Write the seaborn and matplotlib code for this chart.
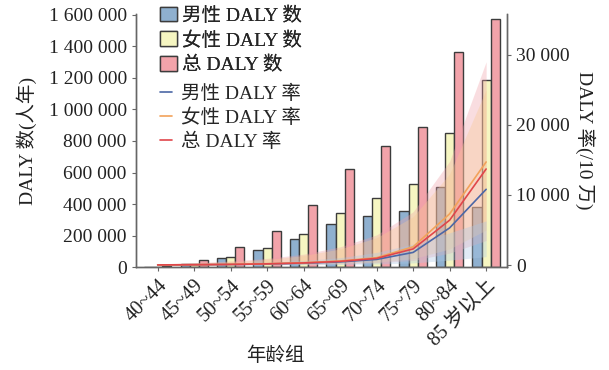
import numpy as np
import pandas as pd
import matplotlib
matplotlib.use('Agg')
import matplotlib.pyplot as plt
import seaborn as sns
from matplotlib.patches import Patch
from matplotlib.lines import Line2D
from matplotlib.ticker import FuncFormatter

# age groups
age_groups = ['40~44', '45~49', '50~54', '55~59', '60~64', '65~69',
              '70~74', '75~79', '80~84', '85 岁以上']

# DALY counts (person-years), left axis
male_daly = [4000, 20000, 59000, 106000, 180000, 272000, 326000, 357000, 506000, 380000]
female_daly = [3000, 22000, 63000, 119000, 210000, 345000, 436000, 525000, 853000, 1187000]
total_daly = [7000, 44000, 125000, 229000, 394000, 620000, 768000, 887000, 1363000, 1572000]

# DALY rates (/100k), right axis
male_rate = [15, 40, 80, 150, 260, 450, 800, 1800, 5300, 10800]
female_rate = [20, 50, 100, 190, 330, 580, 1050, 2600, 7300, 14700]
total_rate = [18, 45, 90, 170, 300, 520, 950, 2300, 6400, 13700]

# uncertainty bands around the rates
male_lo = [0, 0, 10, 20, 40, 80, 150, 300, 700, 1200]
male_hi = [60, 120, 220, 380, 650, 1050, 1800, 3000, 4600, 6300]
female_lo = [0, 10, 30, 70, 130, 230, 400, 900, 2300, 5000]
female_hi = [120, 260, 470, 800, 1350, 2300, 3900, 6900, 13000, 25000]
total_lo = [0, 5, 20, 50, 100, 180, 320, 650, 1700, 3500]
total_hi = [150, 320, 580, 950, 1550, 2600, 4300, 7600, 14800, 29000]

bar_labels = ['男性 DALY 数', '女性 DALY 数', '总 DALY 数']
rate_labels = ['男性 DALY 率', '女性 DALY 率', '总 DALY 率']
bar_colors = ['#8fb0cf', '#f6f6c2', '#f2a3aa']
line_colors = ['#4c67a6', '#f2a25a', '#e0464a']
band_colors = ['#a9c8e6', '#f8c890', '#f0a0a8']

counts = pd.DataFrame({
    'age': age_groups * 3,
    'group': [bar_labels[0]] * 10 + [bar_labels[1]] * 10 + [bar_labels[2]] * 10,
    'daly': male_daly + female_daly + total_daly,
})
xpos = np.arange(len(age_groups))
rates = pd.DataFrame({
    'x': np.concatenate([xpos, xpos, xpos]),
    'group': [rate_labels[0]] * 10 + [rate_labels[1]] * 10 + [rate_labels[2]] * 10,
    'rate': male_rate + female_rate + total_rate,
})

sns.set_style('ticks')
plt.rcParams['font.family'] = ['Liberation Serif', 'Noto Sans CJK SC']
plt.rcParams['axes.unicode_minus'] = False

fig = plt.figure(figsize=(6.09, 3.70), dpi=100)
ax = fig.add_axes([0.223, 0.278, 0.610, 0.684])

sns.barplot(data=counts, x='age', y='daly', hue='group', palette=bar_colors,
            width=0.75, saturation=1, edgecolor='#3c3c3c', linewidth=1,
            legend=False, ax=ax)

ax2 = ax.twinx()
for lo, hi, c in zip([total_lo, female_lo, male_lo], [total_hi, female_hi, male_hi],
                     [band_colors[2], band_colors[1], band_colors[0]]):
    ax2.fill_between(xpos, lo, hi, color=c, alpha=0.35, linewidth=0)
sns.lineplot(data=rates, x='x', y='rate', hue='group', palette=line_colors,
             linewidth=1.2, legend=False, ax=ax2)

ax.set_xlim(-0.6, 9.58)
ax.set_ylim(0, 1605000)
ax2.set_ylim(-300, 35800)
ax.set_yticks(np.arange(0, 1600001, 200000))
ax2.set_yticks([0, 10000, 20000, 30000])
fmt = FuncFormatter(lambda v, p: f'{int(v):,}'.replace(',', ' '))
ax.yaxis.set_major_formatter(fmt)
ax2.yaxis.set_major_formatter(fmt)

ax.set_xticks(xpos)
ax.set_xticklabels(age_groups, rotation=45, ha='right', rotation_mode='anchor', fontsize=14.5)
ax.tick_params(axis='y', labelsize=14, colors='#222222', length=3, color='#666666')
ax.tick_params(axis='x', length=3, color='#666666', labelcolor='#222222')
ax2.tick_params(axis='y', labelsize=14, colors='#222222', length=3, color='#666666')

ax.set_xlabel('年龄组', fontsize=14, color='#222222')
ax.xaxis.set_label_coords(0.375, -0.315)
ax.set_ylabel('DALY 数(人年)', fontsize=14, color='#222222', labelpad=8)
ax2.set_ylabel('DALY 率(/10 万)', fontsize=14, color='#222222', rotation=270, labelpad=18)

for a in (ax, ax2):
    a.spines['top'].set_visible(False)
    for s in ('left', 'right', 'bottom'):
        a.spines[s].set_color('#666666')
        a.spines[s].set_linewidth(1)

bar_handles = [Patch(facecolor=c, edgecolor='#3c3c3c', linewidth=1) for c in bar_colors]
leg1 = ax.legend(bar_handles, bar_labels, loc='upper left', bbox_to_anchor=(0.065, 1.03),
                 frameon=False, fontsize=14, handlelength=0.9, handleheight=0.8,
                 handletextpad=0.25, labelspacing=0.33, borderaxespad=0, borderpad=0)
ax.add_artist(leg1)
line_handles = [Line2D([0], [0], color=c, linewidth=1.2) for c in line_colors]
ax2.legend(line_handles, rate_labels, loc='upper left', bbox_to_anchor=(0.065, 0.72),
           frameon=False, fontsize=14, handlelength=0.6, handletextpad=0.5,
           labelspacing=0.28, borderaxespad=0, borderpad=0)

fig.savefig('out.png', dpi=100)
